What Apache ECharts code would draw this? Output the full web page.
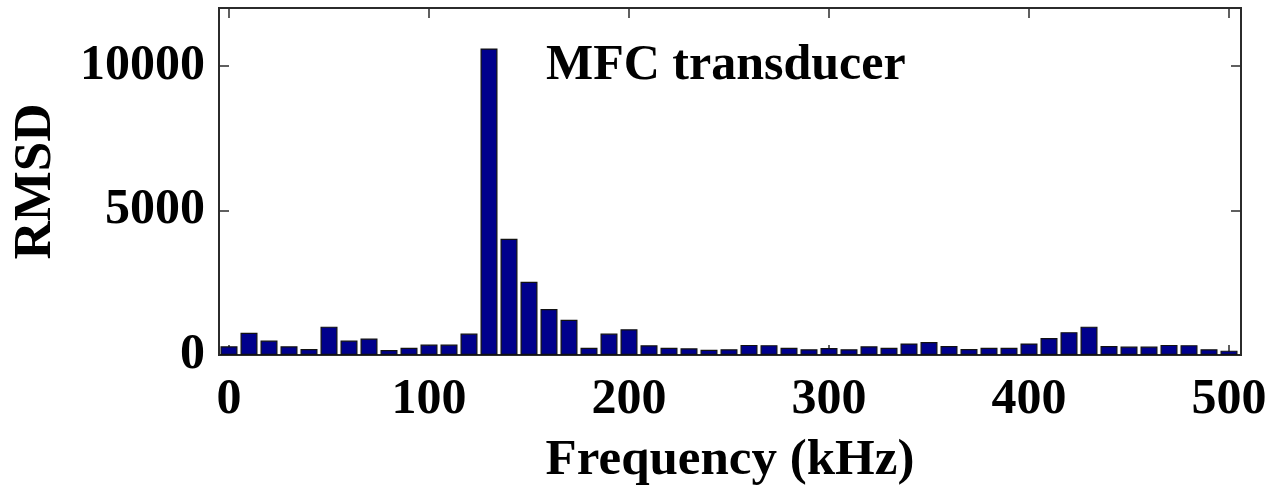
<!DOCTYPE html>
<html>
<head>
<meta charset="utf-8">
<script src="https://cdn.jsdelivr.net/npm/echarts@6/dist/echarts.min.js"></script>
<style>
  html,body{margin:0;padding:0;background:#fff;}
  #chart{width:1278px;height:490px;}
</style>
</head>
<body>
<div id="chart"></div>
<script>
// frequency bins (kHz)
var freqs = [0,10,20,30,40,50,60,70,80,90,100,110,120,130,140,150,160,170,180,190,200,
  210,220,230,240,250,260,270,280,290,300,310,320,330,340,350,360,370,380,390,400,
  410,420,430,440,450,460,470,480,490,500];
// RMSD per bin
var rmsd = [300,770,500,300,210,980,500,570,170,250,360,360,740,10600,4020,2530,1590,1215,250,740,890,
  335,250,230,180,200,350,340,250,200,240,200,300,250,400,450,310,210,250,250,400,
  590,790,980,310,290,290,350,340,200,150];
var xTicks = [0,100,200,300,400,500];
var yTicks = [0,5000,10000];

var font = 'Liberation Serif, Times New Roman, serif';
var lineCol = '#2b2b2b';

var pts = freqs.map(function(f,i){ return [f, rmsd[i]]; });

function xLab(v){ return xTicks.indexOf(v) >= 0 ? String(v) : ''; }
function yLab(v){ return yTicks.indexOf(v) >= 0 ? String(v) : ''; }

var axLine = {show:true,onZero:false,lineStyle:{color:lineCol,width:2}};
var axTick = {show:true,inside:true,length:10,lineStyle:{color:lineCol,width:1.5}};

var ec = echarts.init(document.getElementById('chart'));
ec.setOption({
  animation:false,
  title:{
    text:'MFC transducer',
    left:541, top:36,
    textStyle:{fontFamily:font,fontWeight:'bold',fontSize:50,color:'#000'}
  },
  grid:{left:219,right:37,top:8,bottom:135,outerBoundsMode:'none',containLabel:false,
    show:true,borderColor:lineCol,borderWidth:2,backgroundColor:'#fff'},
  xAxis:[{
    type:'value',min:-5,max:506,
    name:'Frequency (kHz)',nameLocation:'middle',nameGap:80,
    nameTextStyle:{fontFamily:font,fontWeight:'bold',fontSize:51,color:'#000'},
    axisLine:axLine,axisTick:axTick,
    axisLabel:{formatter:xLab,showMinLabel:false,showMaxLabel:false,margin:20,
      fontFamily:font,fontWeight:'bold',fontSize:50,color:'#000'},
    splitLine:{show:false}
  },{
    type:'value',min:-5,max:506,position:'top',
    axisLine:axLine,axisTick:axTick,
    axisLabel:{show:false},splitLine:{show:false}
  }],
  yAxis:[{
    type:'value',min:0,max:12000,interval:5000,
    name:'RMSD',nameLocation:'middle',nameGap:156,
    nameTextStyle:{fontFamily:font,fontWeight:'bold',fontSize:53,color:'#000'},
    axisLine:axLine,axisTick:axTick,
    axisLabel:{formatter:yLab,showMaxLabel:false,margin:14,
      fontFamily:font,fontWeight:'bold',fontSize:50,color:'#000'},
    splitLine:{show:false}
  },{
    type:'value',min:0,max:12000,interval:5000,position:'right',
    axisLine:axLine,axisTick:axTick,
    axisLabel:{show:false},splitLine:{show:false}
  }],
  series:[{
    type:'bar',
    xAxisIndex:0,yAxisIndex:0,
    data:pts,
    barWidth:17,
    itemStyle:{color:'#00008c',borderColor:'#111',borderWidth:1.2}
  }]
});
</script>
</body>
</html>
